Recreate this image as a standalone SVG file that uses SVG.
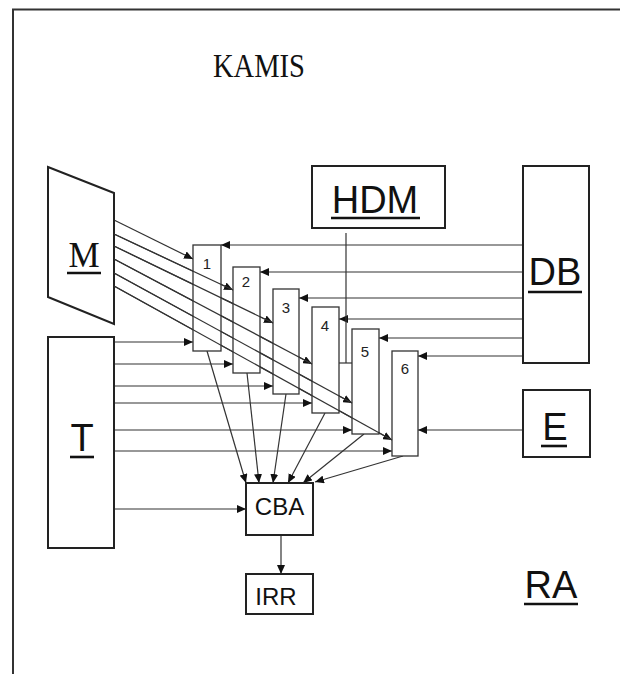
<svg xmlns="http://www.w3.org/2000/svg" width="620" height="674" viewBox="0 0 620 674">
<style>
.box{fill:#fff;stroke:#222;stroke-width:2}
.blk{fill:#fff;stroke:#333;stroke-width:1.3}
.c{fill:none;stroke:#333;stroke-width:1.2}
.ca{fill:none;stroke:#333;stroke-width:1.2;marker-end:url(#ah)}
.sans{font-family:"Liberation Sans",Arial,sans-serif;fill:#111}
.big{font-size:38px}
.num{font-size:15px;text-anchor:middle;fill:#222}
.ul{stroke:#111;stroke-width:2.6}
</style>
<defs>
<marker id="ah" markerUnits="userSpaceOnUse" markerWidth="10" markerHeight="8" refX="9" refY="4" orient="auto">
<path d="M0,0 L9,4 L0,8 Z" fill="#111"/>
</marker>
</defs>
<rect width="620" height="674" fill="#fff"/>
<path d="M13,674 V9.5 H620" fill="none" stroke="#333" stroke-width="2"/>
<text x="259" y="77" text-anchor="middle" font-family="'Liberation Serif','Times New Roman',serif" font-size="33" textLength="92" lengthAdjust="spacingAndGlyphs" fill="#111">KAMIS</text>

<g id="connectors">
<!-- M to blocks -->
<line class="ca" x1="114" y1="220" x2="193" y2="259"/>
<line class="ca" x1="114" y1="234" x2="233" y2="290"/>
<line class="ca" x1="114" y1="246" x2="273" y2="323"/>
<line class="ca" x1="114" y1="259" x2="312" y2="364"/>
<line class="ca" x1="114" y1="273" x2="352" y2="403"/>
<line class="ca" x1="114" y1="286" x2="392" y2="440"/>
<!-- DB to blocks -->
<line class="ca" x1="523" y1="245" x2="221" y2="245"/>
<line class="ca" x1="523" y1="272" x2="260" y2="272"/>
<line class="ca" x1="523" y1="298" x2="299" y2="298"/>
<line class="ca" x1="523" y1="319" x2="339" y2="319"/>
<line class="ca" x1="523" y1="338" x2="379" y2="338"/>
<line class="ca" x1="523" y1="356" x2="418" y2="356"/>
<!-- HDM -->
<line class="c" x1="346" y1="233" x2="346" y2="363"/>
<line class="c" x1="339" y1="363" x2="352" y2="363"/>
<!-- T to blocks -->
<line class="ca" x1="114" y1="342" x2="193" y2="342"/>
<line class="ca" x1="114" y1="364" x2="233" y2="364"/>
<line class="ca" x1="114" y1="386" x2="273" y2="386"/>
<line class="ca" x1="114" y1="403" x2="312" y2="403"/>
<line class="ca" x1="114" y1="430" x2="352" y2="430"/>
<line class="ca" x1="114" y1="451" x2="392" y2="451"/>
<line class="ca" x1="114" y1="509" x2="246" y2="509"/>
<!-- E to block 6 -->
<line class="ca" x1="523" y1="430" x2="418" y2="430"/>
<!-- blocks to CBA -->
<line class="ca" x1="207" y1="351" x2="246" y2="483"/>
<line class="ca" x1="247" y1="373" x2="259" y2="483"/>
<line class="ca" x1="286" y1="394" x2="273" y2="483"/>
<line class="ca" x1="325" y1="413" x2="288" y2="483"/>
<line class="ca" x1="364" y1="434" x2="303" y2="483"/>
<line class="ca" x1="403" y1="456" x2="315" y2="482"/>
<!-- CBA to IRR -->
<line class="ca" x1="281" y1="535" x2="281" y2="574"/>
</g>

<g id="node-M">
<polygon class="box" points="48,167 114,193 114,324 48,297"/>
<text x="84" y="267" text-anchor="middle" font-family="'Liberation Serif','Times New Roman',serif" font-size="35" fill="#111">M</text>
<line class="ul" x1="67" y1="273" x2="101" y2="273"/>
</g>

<g id="node-T">
<rect class="box" x="48" y="337" width="66" height="211"/>
<text class="sans big" x="82" y="451" text-anchor="middle">T</text>
<line class="ul" x1="70" y1="457" x2="94" y2="457"/>
</g>

<g id="node-HDM">
<rect class="box" x="312" y="166" width="133" height="62"/>
<text class="sans big" x="375" y="213" text-anchor="middle">HDM</text>
<line class="ul" x1="331" y1="218" x2="420" y2="218"/>
</g>

<g id="node-DB">
<rect class="box" x="523" y="166" width="66" height="197"/>
<text class="sans big" x="555" y="285" text-anchor="middle">DB</text>
<line class="ul" x1="528" y1="292" x2="582" y2="292"/>
</g>

<g id="node-E">
<rect class="box" x="523" y="390" width="67" height="67"/>
<text class="sans big" x="555" y="440" text-anchor="middle">E</text>
<line class="ul" x1="541" y1="446" x2="567" y2="446"/>
</g>

<g id="node-RA">
<text class="sans big" x="551" y="598" text-anchor="middle">RA</text>
<line class="ul" x1="524" y1="604" x2="578" y2="604"/>
</g>

<g id="node-1">
<rect class="blk" x="193" y="245" width="28" height="106"/>
<text class="sans num" x="207" y="269">1</text>
</g>
<g id="node-2">
<rect class="blk" x="233" y="267" width="27" height="106"/>
<text class="sans num" x="246" y="287">2</text>
</g>
<g id="node-3">
<rect class="blk" x="273" y="289" width="26" height="105"/>
<text class="sans num" x="286" y="313">3</text>
</g>
<g id="node-4">
<rect class="blk" x="312" y="307" width="27" height="106"/>
<text class="sans num" x="325" y="331">4</text>
</g>
<g id="node-5">
<rect class="blk" x="352" y="329" width="27" height="105"/>
<text class="sans num" x="365" y="357">5</text>
</g>
<g id="node-6">
<rect class="blk" x="392" y="351" width="26" height="105"/>
<text class="sans num" x="405" y="374">6</text>
</g>

<g id="node-CBA">
<rect class="box" x="246" y="483" width="67" height="52"/>
<text class="sans" x="279.5" y="515" text-anchor="middle" font-size="24">CBA</text>
</g>

<g id="node-IRR">
<rect class="box" x="246" y="574" width="67" height="40"/>
<text class="sans" x="276" y="605" text-anchor="middle" font-size="24">IRR</text>
</g>

<!-- redraw crossing lines over blocks -->
<g id="connectors-over">
<line class="c" x1="114" y1="234" x2="233" y2="290"/>
<line class="c" x1="114" y1="246" x2="273" y2="323"/>
<line class="c" x1="114" y1="259" x2="312" y2="364"/>
<line class="c" x1="114" y1="273" x2="352" y2="403"/>
<line class="c" x1="114" y1="286" x2="392" y2="440"/>
</g>
</svg>
